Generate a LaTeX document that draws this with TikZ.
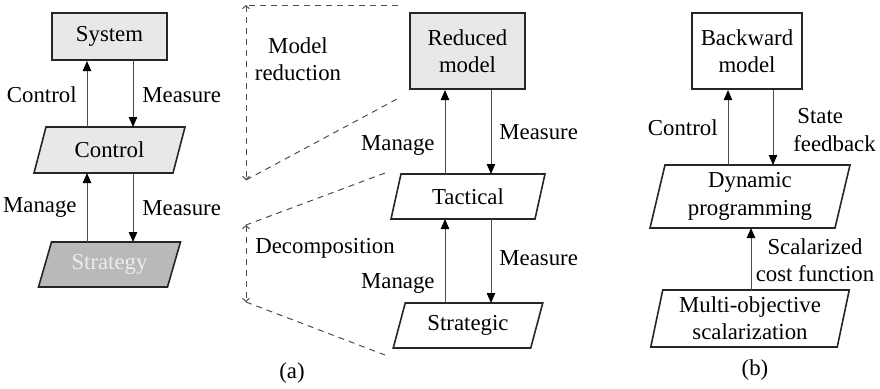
\documentclass[tikz,border=0pt]{standalone}
\usepackage{fontspec}
\setmainfont{Liberation Serif}
\usetikzlibrary{arrows.meta,backgrounds}
\newcommand\paradraw[3]{\draw[pbox,#3] ([xshift=#2]#1.north west) -- ([xshift=#2]#1.north east) -- ([xshift=-#2]#1.south east) -- ([xshift=-#2]#1.south west) -- cycle;}
\begin{document}
\begin{tikzpicture}[x=0.5pt,y=-0.5pt,
  font=\fontsize{11.4}{13.6}\selectfont,
  rbox/.style={draw=black!85, line width=1pt, align=center, inner sep=1pt},
  pnode/.style={inner sep=0pt, outer sep=0pt, align=center},
  pbox/.style={draw=black!85, line width=0.8pt},
  arr/.style={draw=black!70, line width=0.5pt, -{Triangle[length=5pt,width=4.2pt,color=black]}},
  dsh/.style={draw=black!70, line width=0.5pt, dash pattern=on 3pt off 2.5pt},
  dsharr/.style={dsh, {Straight Barb[length=1.5pt,width=3.5pt]}-{Straight Barb[length=1.5pt,width=3.5pt]}},
  lbl/.style={inner sep=0pt, align=center}
]
\useasboundingbox (0,0) rectangle (880,388);

% ---- (left) ----
\node[rbox, fill=gray!18, minimum width=57.5pt, minimum height=23.5pt] (sys) at (109.5,36.5) {System};
\node[pnode, minimum width=69.5pt, minimum height=23pt] (ctl) at (109.5,150) {Control};
\node[pnode, minimum width=64.5pt, minimum height=22.5pt, text=gray!15] (sty) at (109.5,264.5) {Strategy};

% ---- (a) ----
\node[rbox, fill=gray!18, minimum width=57.5pt, minimum height=38pt] (red) at (467.5,51) {Reduced\\model};
\node[pnode, minimum width=72pt, minimum height=22.5pt] (tac) at (468,196.5) {Tactical};
\node[pnode, minimum width=68.75pt, minimum height=22.5pt] (stg) at (468,325.5) {Strategic};

% ---- (b) ----
\node[rbox, fill=white, minimum width=55pt, minimum height=38pt] (bw) at (747,51) {Backward\\model};
\node[pnode, minimum width=92.5pt, minimum height=31.5pt] (dp) at (750,196.5) {Dynamic\\programming};
\node[pnode, minimum width=93.25pt, minimum height=28.5pt] (mo) at (750,318.5) {Multi-objective\\scalarization};

\begin{scope}[on background layer]
  \paradraw{ctl}{3pt}{fill=gray!18}
  \paradraw{sty}{3.25pt}{fill=gray!55}
  \paradraw{tac}{2.5pt}{fill=white}
  \paradraw{stg}{3pt}{fill=white}
  \paradraw{dp}{3.75pt}{fill=white}
  \paradraw{mo}{3pt}{fill=white}
\end{scope}

% column x positions
\coordinate (uL) at (87,0);
\coordinate (dL) at (133,0);
\coordinate (uM) at (445,0);
\coordinate (dM) at (491,0);
\coordinate (uR) at (728,0);
\coordinate (dR) at (773,0);
\coordinate (sR) at (751,0);

\draw[arr] (ctl.north -| uL) -- (sys.south -| uL);
\draw[arr] (sys.south -| dL) -- (ctl.north -| dL);
\draw[arr] (sty.north -| uL) -- (ctl.south -| uL);
\draw[arr] (ctl.south -| dL) -- (sty.north -| dL);

\draw[arr] (tac.north -| uM) -- (red.south -| uM);
\draw[arr] (red.south -| dM) -- (tac.north -| dM);
\draw[arr] (stg.north -| uM) -- (tac.south -| uM);
\draw[arr] (tac.south -| dM) -- (stg.north -| dM);

\draw[arr] (dp.north -| uR) -- (bw.south -| uR);
\draw[arr] (bw.south -| dR) -- (dp.north -| dR);
\draw[arr] (mo.north -| sR) -- (dp.south -| sR);

% labels
\node[lbl, anchor=east] (l1) at (77,95) {Control};
\node[lbl, anchor=west] (l2) at (142,95) {Measure};
\node[lbl, anchor=east] (l3) at (77,207) {Manage};
\node[lbl, anchor=west] (l4) at (142,208) {Measure};

\node[lbl, anchor=east] (l5) at (435,145) {Manage};
\node[lbl, anchor=west] (l6) at (499,132) {Measure};
\node[lbl, anchor=east] (l7) at (435,283) {Manage};
\node[lbl, anchor=west] (l8) at (499,258) {Measure};
\node[lbl] (l9) at (298,59) {Model\\reduction};
\node[lbl, anchor=west] (l10) at (255,248) {Decomposition};
\node[lbl] (capa) at (292,373) {(a)};

\node[lbl, anchor=east] (l11) at (718,128) {Control};
\node[lbl, anchor=west, align=left] (l12) at (793,130) {\hspace*{2pt}State\\feedback};
\node[lbl] (l13) at (815,260) {Scalarized\\cost function};
\node[lbl] (capb) at (755,370) {(b)};

% dashed guides
\coordinate (m1) at (398,5);
\coordinate (m2) at (246,5);
\coordinate (m3) at (246,180);
\coordinate (m4) at (397,99);
\draw[dsh] (m1) -- (m2);
\draw[dsharr] (m2) -- (m3);
\draw[dsh] (m3) -- (m4);

\coordinate (d1) at (385,173);
\coordinate (d2) at (246,225);
\coordinate (d3) at (246,302);
\coordinate (d4) at (385,355);
\draw[dsh] (d1) -- (d2);
\draw[dsharr] (d2) -- (d3);
\draw[dsh] (d3) -- (d4);
\end{tikzpicture}
\end{document}
